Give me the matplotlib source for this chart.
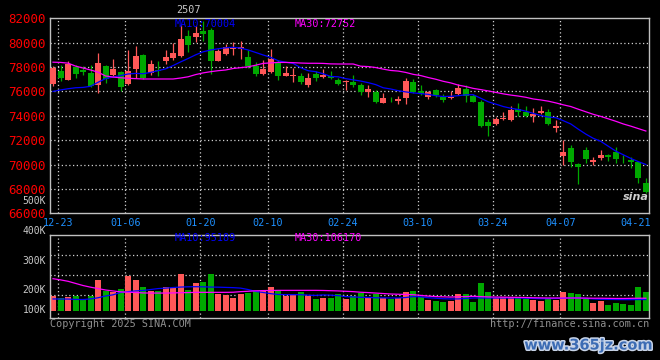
import numpy as np
import matplotlib.pyplot as plt
import matplotlib.patheffects as pe

# 日期刻度
dates = ['12-23', '01-06', '01-20', '02-10', '02-24', '03-10', '03-24', '04-07', '04-21']
date_idx = [1, 10, 20, 29, 39, 49, 59, 68, 78]

# K线数据
opens = [76637, 77704, 76938, 77977, 77786, 77512, 76528, 78059, 77375, 77567,
         76637, 77868, 79016, 77512, 77786, 78524, 78743, 78880, 80575, 80466,
         80986, 81013, 78524, 79098, 79509, 79481, 78825, 78059, 77430, 77594,
         78333, 77293, 77293, 77293, 76555, 77457, 77184, 77293, 76965, 76774,
         76773, 76527, 75980, 75980, 75078, 75324, 75242, 75488, 76773, 76035,
         75570, 76117, 75570, 75460, 75761, 76199, 75652, 75160, 73519, 73327,
         73710, 73655, 74531, 74339, 73984, 74203, 74339, 73026, 70702, 71331,
         70045, 71194, 70209, 70565, 70784, 71057, 70565, 70373, 70182, 68514]
highs = [78060, 78196, 78524, 78196, 78060, 78196, 79126, 78196, 78661, 77649,
         79427, 79700, 79098, 78552, 78470, 79372, 79974, 81478, 81013, 81341,
         81752, 81204, 79481, 79919, 80056, 80111, 79372, 78415, 78606, 79481,
         78606, 78059, 77922, 77512, 77512, 77649, 77868, 77649, 77102, 76965,
         77348, 76719, 76527, 76117, 75843, 75570, 75625, 77074, 77020, 76527,
         76035, 76199, 75789, 76035, 76582, 76527, 75761, 75297, 73710, 73929,
         74339, 74804, 75023, 74804, 74613, 74804, 74531, 73655, 72014, 71604,
         70100, 71468, 70592, 71194, 70866, 71468, 70784, 70647, 70237, 68924]
lows = [76473, 76883, 76910, 77102, 77321, 76336, 75899, 76692, 77239, 76008,
        76555, 77102, 77020, 77321, 77239, 78251, 78606, 78825, 79235, 80056,
        80111, 77430, 78470, 79016, 79016, 78688, 77922, 77239, 77375, 77512,
        76965, 77239, 76774, 76637, 76363, 76828, 77102, 77020, 76555, 76145,
        76390, 75734, 75570, 75023, 75023, 75105, 74968, 74968, 75843, 75707,
        75378, 75570, 75160, 75406, 75707, 75160, 75105, 73109, 72343, 73245,
        73655, 73601, 73984, 73929, 73519, 74120, 73245, 72698, 69963, 69826,
        68377, 70100, 69963, 70373, 70319, 70155, 70155, 69690, 68459, 67638]
closes = [77922, 77102, 78251, 77430, 77567, 76473, 78360, 77020, 77840, 76363,
          77704, 78934, 77102, 78251, 77649, 78825, 79153, 80302, 79782, 80794,
          80740, 78524, 79290, 79645, 79618, 79645, 78114, 77457, 77868, 78661,
          77293, 77512, 77348, 76774, 77102, 77102, 77375, 77102, 76637, 76856,
          76527, 75980, 76199, 75160, 75488, 75269, 75351, 76883, 75980, 75789,
          75980, 75707, 75297, 75570, 76309, 75625, 75160, 73191, 73191, 73738,
          73819, 74476, 74339, 73984, 74120, 74421, 73300, 73191, 71057, 70237,
          69826, 70456, 70373, 70784, 70647, 70428, 70510, 70237, 68869, 67775]

# 均线
ma10 = [76000, 76120, 76220, 76300, 76330, 76420, 76750, 77050, 77180, 77300,
        77430, 77480, 77450, 77560, 77700, 77850, 78120, 78420, 78700, 79000,
        79250, 79400, 79500, 79580, 79620, 79560, 79400, 79200, 78990, 78800,
        78520, 78400, 78300, 77950, 77700, 77620, 77450, 77230, 77200, 77050,
        76950, 76850, 76720, 76560, 76300, 76200, 76060, 75960, 75880, 75820,
        75760, 75650, 75580, 75600, 75650, 75720, 75732, 75440, 75150, 74960,
        74760, 74620, 74520, 74380, 74200, 74020, 73900, 73840, 73600, 73330,
        72900, 72500, 72150, 71900, 71500, 71100, 70800, 70500, 70240, 70004]
ma30 = [78400, 78380, 78320, 78080, 77920, 77760, 77580, 77270, 77180, 77120,
        77080, 77050, 77020, 77020, 77020, 77020, 77020, 77100, 77200, 77380,
        77520, 77620, 77700, 77760, 77880, 77950, 78020, 78150, 78300, 78340,
        78380, 78380, 78360, 78330, 78310, 78310, 78300, 78260, 78250, 78250,
        78250, 78070, 78040, 77960, 77830, 77720, 77670, 77560, 77400, 77300,
        77140, 77000, 76830, 76700, 76520, 76400, 76250, 76150, 76040, 75920,
        75800, 75700, 75620, 75520, 75380, 75300, 75200, 75060, 74900, 74760,
        74540, 74330, 74120, 73950, 73750, 73550, 73330, 73150, 72950, 72752]

# 成交量（千手）
volumes = [122, 108, 116, 122, 99, 122, 264, 170, 156, 187,
           298, 264, 201, 164, 164, 199, 193, 312, 176, 235,
           244, 312, 142, 130, 108, 142, 150, 164, 164, 201,
           179, 128, 136, 159, 128, 99, 108, 108, 142, 99,
           122, 150, 108, 142, 108, 99, 108, 159, 170, 113,
           91, 85, 74, 85, 142, 142, 74, 235, 159, 108,
           113, 113, 108, 99, 94, 79, 99, 91, 159, 150,
           142, 102, 65, 85, 51, 65, 57, 51, 201, 159]
vol_ma10 = [100, 99, 99, 96, 95, 100, 110, 125, 135, 155,
            162, 168, 172, 180, 188, 192, 197, 201, 203, 204,
            203, 201, 200, 198, 196, 192, 180, 164, 155, 145,
            138, 136, 136, 136, 132, 130, 134, 132, 128, 120,
            117, 114, 112, 110, 109, 108, 108, 112, 120, 118,
            110, 106, 102, 100, 100, 104, 108, 108, 108, 108,
            108, 108, 108, 106, 104, 102, 103, 104, 106, 108,
            108, 105, 100, 97, 96, 95, 94, 94, 95, 95]
vol_ma30 = [272, 262, 250, 232, 214, 200, 188, 176, 168, 160,
            157, 155, 151, 150, 150, 150, 151, 153, 154, 156,
            156, 156, 156, 156, 157, 162, 165, 169, 171, 172,
            173, 173, 173, 173, 173, 173, 172, 170, 168, 165,
            162, 157, 154, 150, 146, 142, 140, 138, 136, 130,
            124, 120, 118, 116, 118, 120, 122, 120, 117, 116,
            115, 114, 113, 112, 110, 109, 108, 108, 108, 108,
            108, 107, 106, 106, 105, 104, 104, 105, 106, 106]

W, H = 660, 360
RED = '#FF5858'
GREEN = '#00A800'
FRAME = '#C0C0C0'
GRID = '#D0D0D0'
MONO = 'DejaVu Sans Mono'


def fx(px):
    return px / W


def fy(py):
    return 1 - py / H


def vol_at(py):
    # 成交量面板像素 -> 数值（基线 310.7px，8.5K/px）
    return (310.7 - py) * 8.5


def main():
    x = np.arange(len(closes))
    o, h, l, c = map(np.array, (opens, highs, lows, closes))
    up = c >= o
    colors = np.where(up, RED, GREEN)

    fig = plt.figure(figsize=(W / 100, H / 100), dpi=100, facecolor='black')
    ax = fig.add_axes([fx(50), fy(213.3), (649.3 - 50) / W, (213.3 - 18.3) / H])
    axv = fig.add_axes([fx(50), fy(318), (649.3 - 50) / W, (318 - 234.7) / H])

    for a in (ax, axv):
        a.set_facecolor('black')
        a.set_xlim(-0.4, 79.46)
        for s in a.spines.values():
            s.set_color(FRAME)
            s.set_linewidth(1)
        for d in date_idx[:-1]:
            a.axvline(d - 0.38, color=GRID, lw=0.9, ls=(0, (1, 2)), zorder=0)

    # 价格面板
    ax.set_ylim(66000, 82000)
    ax.set_yticks(range(66000, 82001, 2000))
    ax.tick_params(axis='y', length=0, pad=3, labelcolor='#FF0000', labelsize=9)
    for lab in ax.get_yticklabels():
        lab.set_fontfamily(MONO)
    for yv in range(68000, 81000, 2000):
        ax.axhline(yv, color=GRID, lw=0.9, ls=(0, (1, 2)), zorder=0)
    ax.set_xticks(np.array(date_idx) - 0.38, labels=dates)
    ax.tick_params(axis='x', length=0, pad=3.5, labelcolor='#1E90FF', labelsize=7.3)
    for lab in ax.get_xticklabels():
        lab.set_fontfamily(MONO)

    ax.vlines(x, l, h, colors=colors, lw=0.9, zorder=2)
    body = np.maximum(np.abs(c - o), 60)
    ax.bar(x, body, bottom=np.minimum(o, c), width=0.8, color=colors, lw=0, zorder=3)
    ax.plot(x, ma10, color='#0000FF', lw=0.9, zorder=4)
    ax.plot(x, ma30, color='#FF00FF', lw=0.9, zorder=4)

    # 成交量面板
    axv.set_ylim(vol_at(318), vol_at(234.7))
    axv.set_yticks([])
    axv.set_xticks([])
    for py in (255.3, 275.3, 295.3):
        axv.axhline(vol_at(py), color=GRID, lw=0.9, ls=(0, (1, 2)), zorder=0)
    axv.bar(x, volumes, width=0.8, color=colors, lw=0, zorder=2)
    axv.plot(x, vol_ma10, color='#0000FF', lw=0.9, zorder=3)
    axv.plot(x, vol_ma30, color='#FF00FF', lw=0.9, zorder=3)

    # 文字
    small = dict(family=MONO, fontsize=7.3)
    fig.text(fx(176), fy(10), '2507', color='#C8C8C8', va='center', **small)
    fig.text(fx(175), fy(23.7), 'MA10:70004', color='#0000FF', va='center', **small)
    fig.text(fx(295), fy(23.7), 'MA30:72752', color='#FF00FF', va='center', **small)
    fig.text(fx(175), fy(238.3), 'MA10:95189', color='#0000FF', va='center', **small)
    fig.text(fx(295), fy(238.3), 'MA30:106170', color='#FF00FF', va='center', **small)
    for py, s in [(200.6, '500K'), (230.7, '400K'), (260.7, '300K'),
                  (290.3, '200K'), (310, '100K')]:
        fig.text(fx(46), fy(py), s, color='#C8C8C8', ha='right', va='center',
                 family=MONO, fontsize=7)
    fig.text(fx(50), fy(323.7), 'Copyright 2025 SINA.COM', color='#909090',
             va='center', **small)
    fig.text(fx(649.3), fy(324), 'http://finance.sina.com.cn', color='#909090',
             ha='right', va='center', **small)
    fig.text(fx(636), fy(197), 'sina', color='#D0D0D0', ha='center', va='center',
             fontsize=8, fontweight='bold', fontstyle='italic')
    fig.text(fx(653), fy(345), 'www.365jz.com', color='#3C6CB4', ha='right',
             va='center', fontsize=10.5, fontweight='bold',
             path_effects=[pe.withStroke(linewidth=2.2, foreground='#C8D4E8')])

    fig.savefig('out.png', dpi=100, facecolor='black')


if __name__ == '__main__':
    main()
